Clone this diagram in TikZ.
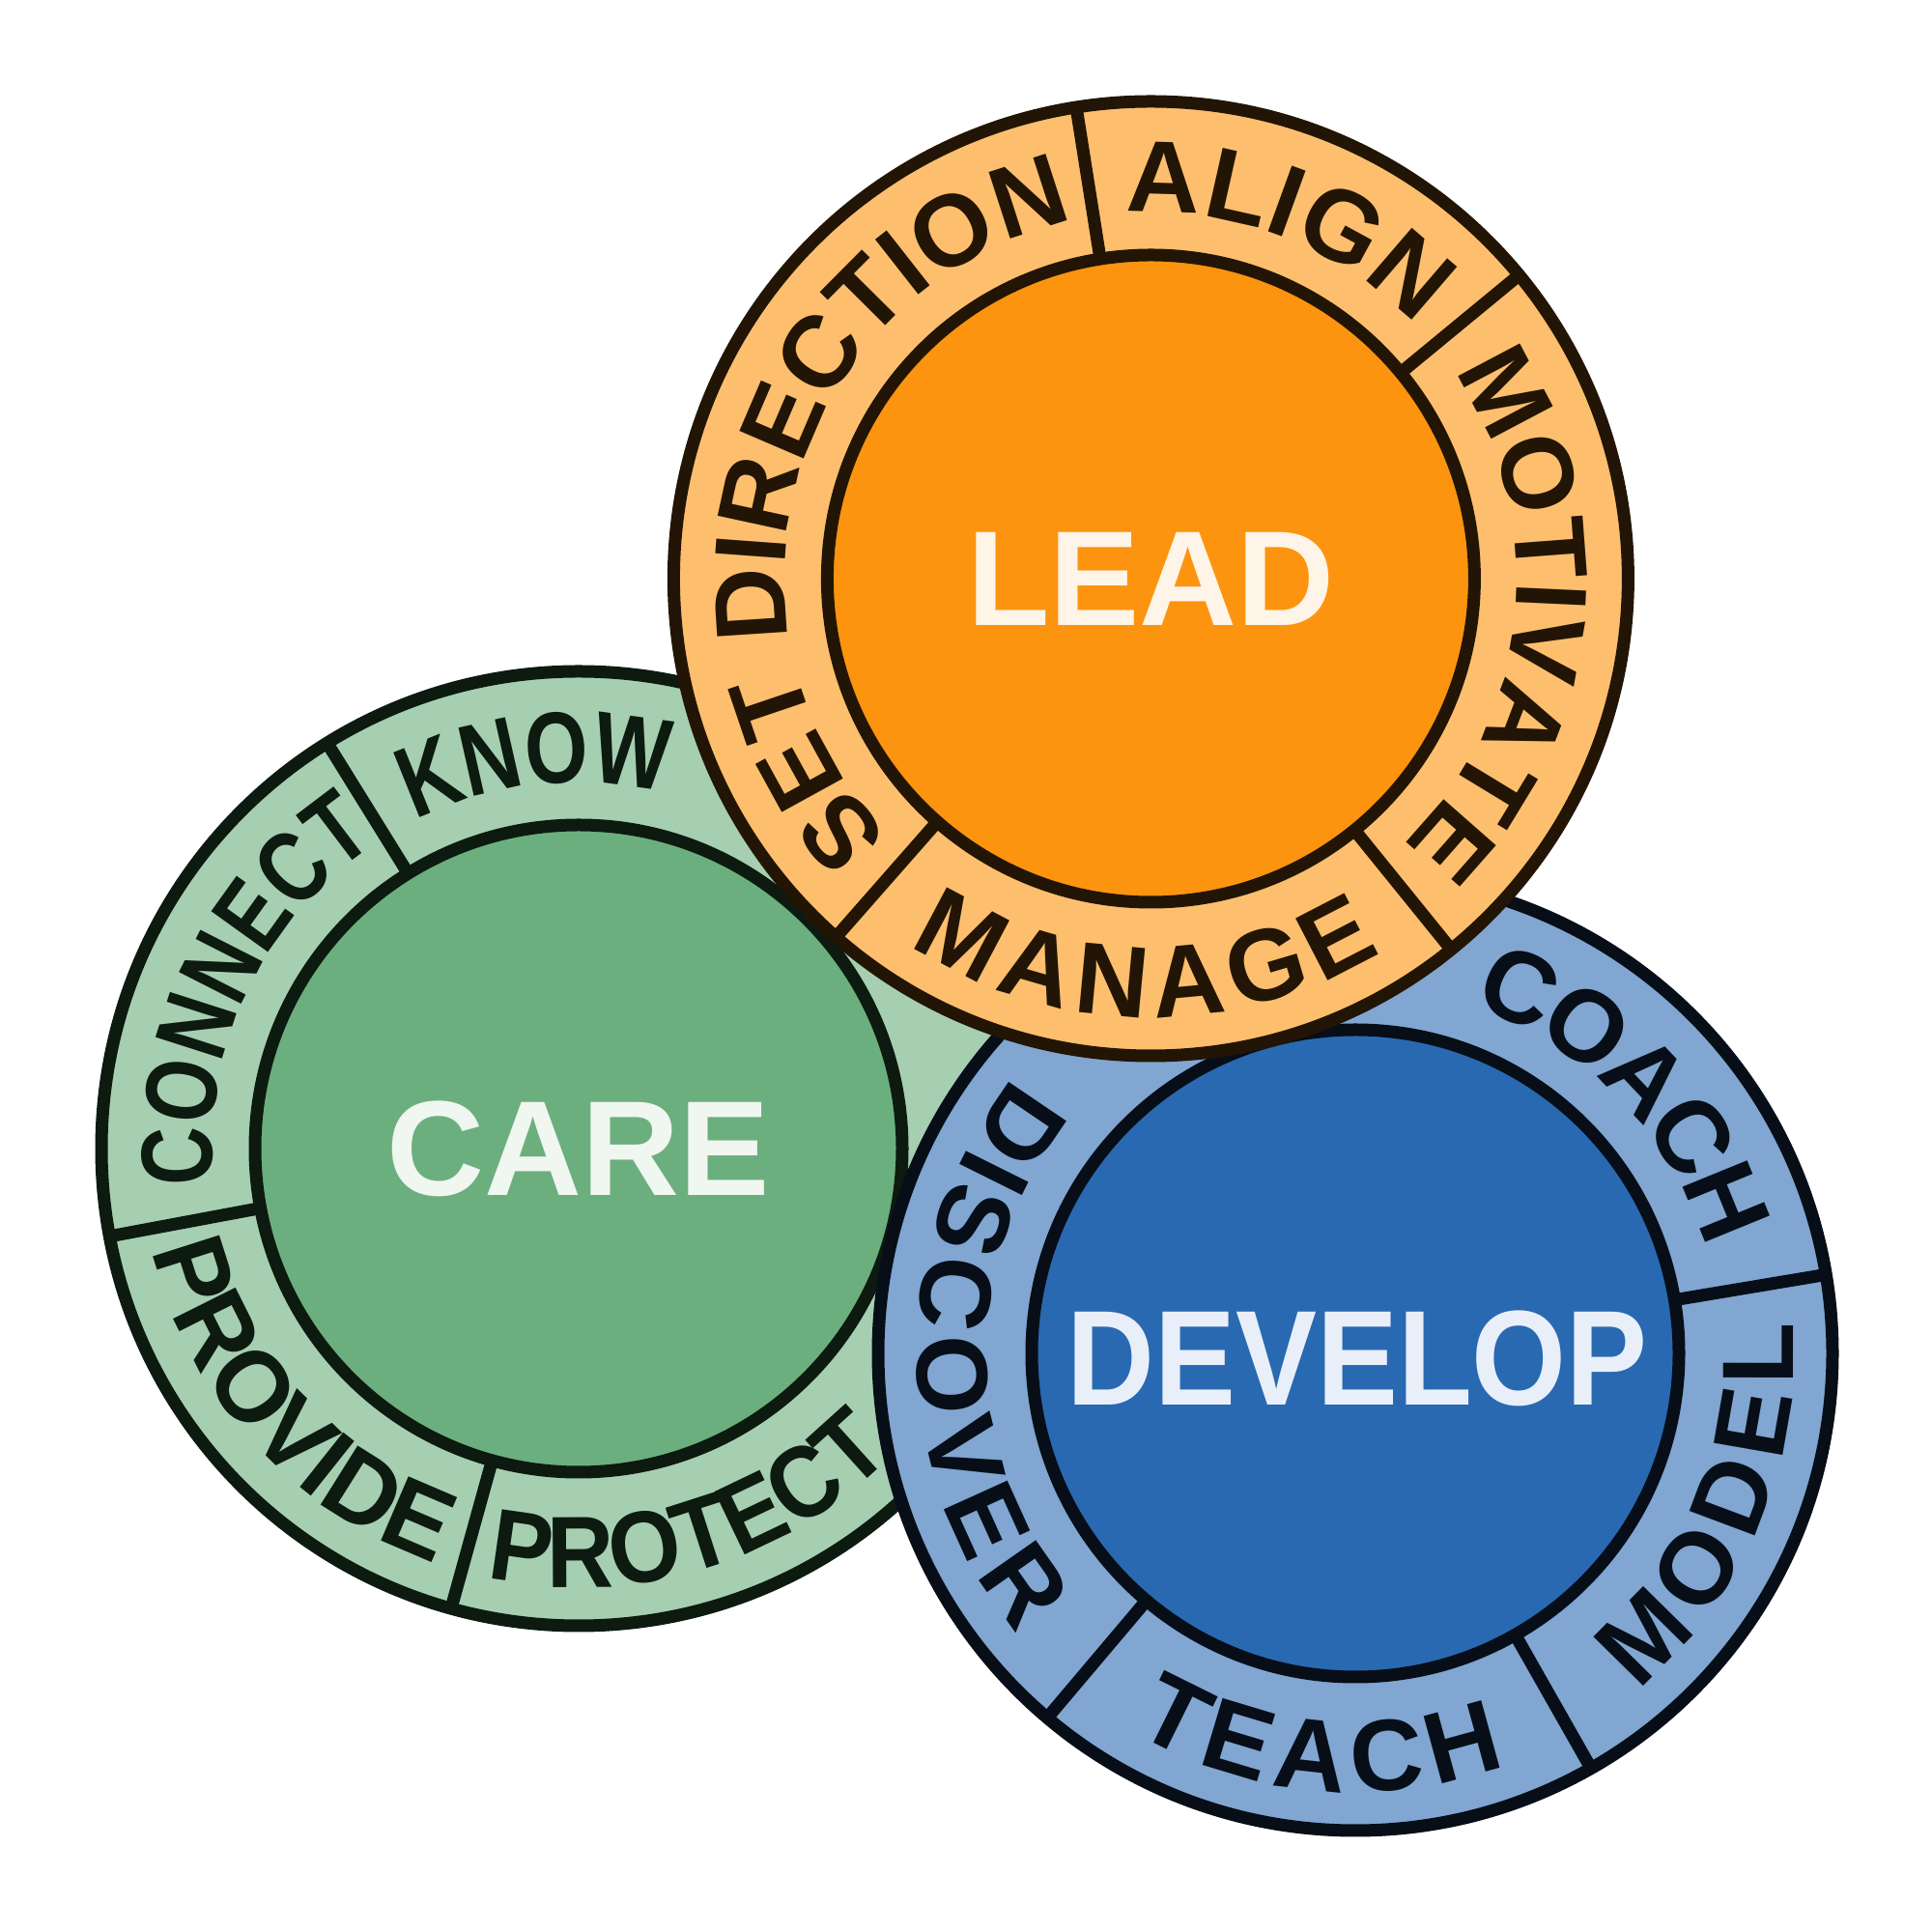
\documentclass[tikz,border=0pt]{standalone}
\usepackage{fontspec}
\setmainfont{Liberation Sans}
\newfontfamily\fstdfam{Liberation Sans}
\newfontfamily\fknowfam{Liberation Sans}[FakeStretch=0.80]
\newfontfamily\fconnfam{Liberation Sans}[FakeStretch=0.795]
\newfontfamily\fprovfam{Liberation Sans}[FakeStretch=0.965]
\newfontfamily\fprotfam{Liberation Sans}[FakeStretch=0.913]
\usepackage{graphicx}
\usetikzlibrary{calc,decorations.text}
\definecolor{leadring}{HTML}{FDBF6E}
\definecolor{leadcore}{HTML}{FD940F}
\definecolor{leadtext}{HTML}{FEF4E8}
\definecolor{leadline}{HTML}{221505}
\definecolor{carering}{HTML}{A6CFB1}
\definecolor{carecore}{HTML}{6CAF7E}
\definecolor{caretext}{HTML}{F0F6F0}
\definecolor{careline}{HTML}{0D1A10}
\definecolor{devring}{HTML}{80A6D1}
\definecolor{devcore}{HTML}{2969B2}
\definecolor{devtext}{HTML}{E8EFF9}
\definecolor{devline}{HTML}{070E17}
\tikzset{
  outline/.style={line width=0.13cm},
  centerlabel/.style={font=\centerfnt,inner sep=0pt,anchor=center}
}
\newcommand\ringfnt[1]{#1\fontsize{29.9pt}{30pt}\selectfont\bfseries}
\newcommand\centerfnt{\fontsize{39.8pt}{40pt}\selectfont\bfseries}
% clockwise word, tops outward: font, center, mid angle, path radius, raise, colour, text
\newcommand\cwword[7]{%
  \path[decorate,decoration={text along path,text align=center,raise=#5cm,text color=#6,text={|\ringfnt{#1}|#7}}]
    ($(#2)+({#3+80}:#4)$) arc[start angle={#3+80},end angle={#3-80},radius=#4cm];}
% counter-clockwise word, tops inward
\newcommand\ccwword[7]{%
  \path[decorate,decoration={text along path,text align=center,raise=#5cm,text color=#6,text={|\ringfnt{#1}|#7}}]
    ($(#2)+({#3-80}:#4)$) arc[start angle={#3-80},end angle={#3+80},radius=#4cm];}
\newcommand\ringdisc[4]{%
  \fill[#2] (#1) circle[radius=4.94cm];
  \draw[#4,outline] (#1) circle[radius=4.94cm];
  \filldraw[fill=#3,draw=#4,outline] (#1) circle[radius=3.35cm];}
\newcommand\ringdiv[3]{%
  \draw[#3,outline] ($(#1)+(#2:3.35)$) -- ($(#1)+(#2:4.94)$);}
\begin{document}
\begin{tikzpicture}
\useasboundingbox (0,0) rectangle (20,20);
\coordinate (L) at (11.914,14.01);
\coordinate (C) at (5.99,8.11);
\coordinate (D) at (14.03,5.99);
% CARE
\ringdisc{C}{carering}{carecore}{careline}
\ringdiv{C}{121.8}{careline}
\ringdiv{C}{190.6}{careline}
\ringdiv{C}{254.5}{careline}
\cwword{\fknowfam}{C}{96.4}{3.79}{0}{careline}{KNOW}
\cwword{\fconnfam}{C}{154.5}{3.79}{0}{careline}{CONNECT}
\ccwword{\fprovfam}{C}{222.25}{4.54}{0}{careline}{PROVIDE}
\ccwword{\fprotfam}{C}{286.8}{4.54}{0}{careline}{PROTECT}
\node[centerlabel,text=caretext] (carelabel) at (C) {CARE};
% DEVELOP
\ringdisc{D}{devring}{devcore}{devline}
\ringdiv{D}{9.5}{devline}
\ringdiv{D}{-60.4}{devline}
\ringdiv{D}{-130.2}{devline}
\cwword{\fstdfam}{D}{44.0}{4.07}{-0.28}{devline}{COACH}
\ccwword{\fstdfam}{D}{-23.15}{3.914}{-0.626}{devline}{MODEL}
\ccwword{\fstdfam}{D}{-95.08}{4.018}{-0.522}{devline}{TEACH}
\ccwword{\fstdfam}{D}{180.45}{3.919}{-0.621}{devline}{DISCOVER}
\node[centerlabel,text=devtext,xshift=0.02cm,yshift=-0.05cm] (devlabel) at (D) {\scalebox{0.9}[1]{DEVELOP}};
% LEAD
\ringdisc{L}{leadring}{leadcore}{leadline}
\ringdiv{L}{99}{leadline}
\ringdiv{L}{39.5}{leadline}
\ringdiv{L}{-51}{leadline}
\ringdiv{L}{-131.3}{leadline}
\cwword{\fstdfam}{L}{68.75}{3.695}{0.095}{leadline}{ALIGN}
\cwword{\fstdfam}{L}{-6.1}{3.846}{-0.056}{leadline}{MOTIVATE}
\ccwword{\fstdfam}{L}{-90.87}{4.032}{-0.508}{leadline}{MANAGE}
\cwword{\fstdfam}{L}{163.43}{3.793}{-0.003}{leadline}{SET DIRECTION}
\node[centerlabel,text=leadtext] (leadlabel) at (L) {LEAD};
\end{tikzpicture}
\end{document}
